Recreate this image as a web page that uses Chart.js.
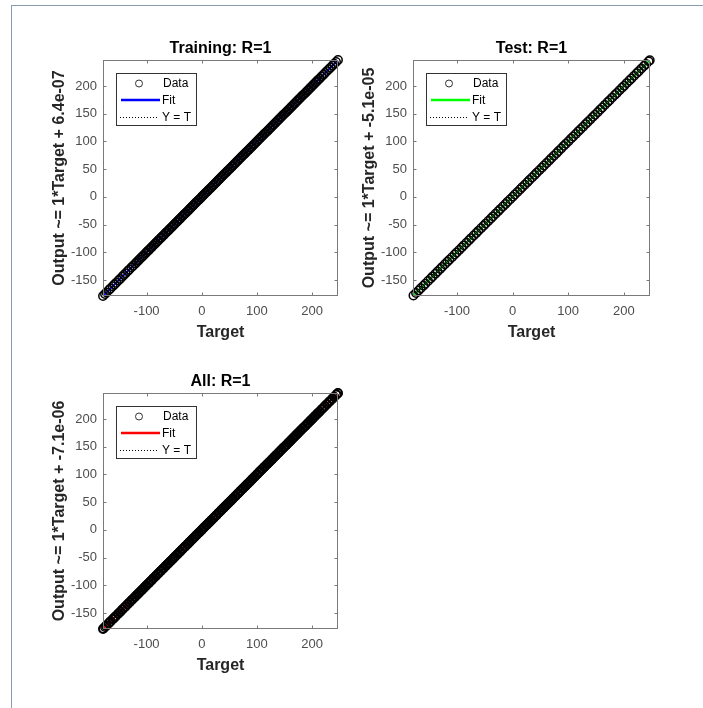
<!DOCTYPE html>
<html>
<head>
<meta charset="utf-8">
<script src="https://cdn.jsdelivr.net/npm/chart.js@4.4.1/dist/chart.umd.min.js"></script>
<style>
html,body{margin:0;padding:0;background:#fff;width:703px;height:708px;overflow:hidden;position:relative}
#frame{position:absolute;left:11px;top:5px;width:720px;height:720px;border-top:1px solid #8c9ab0;border-left:1px solid #8c9ab0}
canvas{position:absolute}
</style>
</head>
<body>
<div id="frame"></div>
<canvas id="c1" width="350" height="350" style="left:0;top:0"></canvas>
<canvas id="c2" width="360" height="350" style="left:310px;top:0"></canvas>
<canvas id="c3" width="350" height="350" style="left:0;top:333px"></canvas>
<script>
// ---- data ----
const axisMin = -179;
const axisMax = 247;
const xTickValues = [-100, 0, 100, 200];
const yTickValues = [-150, -100, -50, 0, 50, 100, 150, 200];

const panelTitles = ['Training: R=1', 'Test: R=1', 'All: R=1'];
const yAxisLabels = ['Output ~= 1*Target + 6.4e-07', 'Output ~= 1*Target + -5.1e-05', 'Output ~= 1*Target + -7.1e-06'];
const fitSlopes = [1, 1, 1];
const fitIntercepts = [6.4e-07, -5.1e-05, -7.1e-06];
const fitColors = ['#0000ff', '#00ff00', '#ff0000'];
const legendLabels = ['Data', 'Fit', 'Y = T'];

// target values of the points (each point lies on Output = Target, R=1)
const trainingValues = [-179.0, -175.4, -172.6, -168.3, -165.5, -161.4, -158.3, -155.1, -151.0, -148.1, -144.3, -141.2, -137.9, -134.0, -131.2, -127.3, -124.4, -120.6, -118.1, -115.2, -112.8, -110.0, -107.6, -105.3, -102.2, -100.1, -97.4, -95.3, -92.5, -90.4, -87.6, -85.1, -83.0, -80.2, -78.1, -75.3, -73.2, -70.4, -68.3, -65.5, -63.2, -60.6, -58.5, -55.7, -53.4, -50.8, -48.7, -45.9, -43.5, -41.0, -38.9, -36.1, -33.8, -31.2, -29.1, -26.3, -24.0, -21.5, -19.3, -16.6, -14.4, -11.7, -9.5, -6.8, -4.6, -1.9, 0.5, 2.8, 5.4, 7.7, 10.3, 12.6, 15.2, 17.5, 20.1, 22.4, 25.0, 27.3, 29.9, 32.2, 34.8, 37.1, 39.7, 42.0, 44.6, 46.9, 49.5, 51.8, 54.4, 56.7, 59.3, 61.6, 64.2, 66.5, 69.1, 71.4, 74.0, 76.3, 78.9, 81.2, 83.8, 86.1, 88.7, 91.0, 93.6, 95.9, 98.5, 100.8, 103.4, 105.7, 108.3, 110.6, 113.2, 115.5, 118.1, 120.4, 123.0, 125.3, 127.9, 130.2, 132.8, 135.1, 137.7, 140.0, 142.6, 144.9, 147.5, 149.8, 152.4, 154.7, 157.3, 159.6, 162.2, 164.5, 167.1, 169.4, 172.0, 174.3, 176.9, 179.2, 181.8, 184.1, 186.7, 189.0, 191.6, 193.9, 196.5, 198.8, 201.4, 203.7, 206.3, 208.6, 211.2, 213.8, 217.1, 220.6, 223.4, 227.0, 230.3, 233.6, 237.2, 240.1, 243.5, 247.0];
const testValues = [-178.2, -173.6, -168.9, -165.1, -160.3, -156.8, -151.9, -147.2, -143.5, -138.7, -134.9, -130.1, -126.4, -121.8, -117.3, -113.6, -108.9, -104.2, -100.5, -95.8, -91.4, -87.6, -82.9, -78.3, -74.5, -69.8, -65.2, -61.4, -56.7, -52.1, -48.3, -43.6, -39.0, -35.2, -30.5, -25.9, -22.1, -17.4, -12.8, -9.0, -4.3, 0.3, 4.1, 8.8, 13.4, 17.2, 21.9, 26.5, 30.3, 35.0, 39.6, 43.4, 48.1, 52.7, 56.5, 61.2, 65.8, 69.6, 74.3, 78.9, 82.7, 87.4, 92.0, 95.8, 100.5, 105.1, 108.9, 113.6, 118.2, 122.0, 126.7, 131.3, 135.1, 139.8, 144.4, 148.2, 152.9, 157.5, 161.3, 166.0, 170.6, 174.4, 179.1, 183.7, 187.5, 192.2, 196.8, 200.6, 205.3, 209.9, 213.7, 218.4, 223.0, 226.8, 231.5, 236.1, 239.9, 244.6, 246.6];
const allValues = trainingValues.concat(testValues);
const panelValues = [trainingValues, testValues, allValues];

// ---- drawing ----
const FONT = "'Liberation Sans', Arial, Helvetica, sans-serif";

const matlabBox = {
  id: 'matlabBox',
  afterDraw(chart, args, opts) {
    const ctx = chart.ctx, a = chart.chartArea, xs = chart.scales.x, ys = chart.scales.y;
    ctx.save();
    const L = Math.round(a.left) + 0.5, R = Math.round(a.right) - 0.5;
    const T = Math.round(a.top) + 0.5, B = Math.round(a.bottom) - 0.5;
    ctx.strokeStyle = '#7a7a7a';
    ctx.lineWidth = 1;
    ctx.strokeRect(L, T, R - L, B - T);
    const tl = 3;
    ctx.beginPath();
    xTickValues.forEach(v => {
      const p = Math.round(xs.getPixelForValue(v)) + 0.5;
      ctx.moveTo(p, B); ctx.lineTo(p, B - tl);
      ctx.moveTo(p, T); ctx.lineTo(p, T + tl);
    });
    yTickValues.forEach(v => {
      const p = Math.round(ys.getPixelForValue(v)) + 0.5;
      ctx.moveTo(L, p); ctx.lineTo(L + tl, p);
      ctx.moveTo(R, p); ctx.lineTo(R - tl, p);
    });
    ctx.stroke();

    // legend box
    const lx = Math.round(a.left) + 13, ly = Math.round(a.top) + 13, lw = 81, lh = 53;
    ctx.fillStyle = '#fff';
    ctx.fillRect(lx, ly, lw, lh);
    ctx.strokeStyle = '#333';
    ctx.strokeRect(lx + 0.5, ly + 0.5, lw - 1, lh - 1);
    // Data
    ctx.beginPath();
    ctx.strokeStyle = '#333';
    ctx.lineWidth = 1;
    ctx.arc(lx + 23, ly + 10.5, 3.5, 0, Math.PI * 2);
    ctx.stroke();
    // Fit
    ctx.beginPath();
    ctx.strokeStyle = opts.color;
    ctx.lineWidth = 2.5;
    ctx.moveTo(lx + 5, ly + 27); ctx.lineTo(lx + 44, ly + 27);
    ctx.stroke();
    // Y = T
    ctx.beginPath();
    ctx.strokeStyle = '#000';
    ctx.lineWidth = 1;
    ctx.setLineDash([1, 2]);
    ctx.moveTo(lx + 4, ly + 44.5); ctx.lineTo(lx + 42, ly + 44.5);
    ctx.stroke();
    ctx.setLineDash([]);
    ctx.fillStyle = '#000';
    ctx.font = '12px ' + FONT;
    ctx.textBaseline = 'middle';
    ctx.textAlign = 'left';
    ctx.fillText(legendLabels[0], lx + 47, ly + 10.5);
    ctx.fillText(legendLabels[1], lx + 46, ly + 27.5);
    ctx.fillText(legendLabels[2], lx + 46, ly + 44.5);
    ctx.restore();
  }
};

function makePanel(id, idx, padRight) {
  const values = panelValues[idx];
  const m = fitSlopes[idx], b = fitIntercepts[idx];
  const ends = [axisMin, axisMax];
  new Chart(document.getElementById(id), {
    type: 'scatter',
    data: {
      datasets: [
        {
          label: legendLabels[2],
          data: ends.map(v => ({x: v, y: v})),
          showLine: true, pointRadius: 0, borderColor: '#000', borderWidth: 1,
          borderDash: [1, 2], order: 0
        },
        {
          label: legendLabels[0],
          data: values.map(v => ({x: v, y: v})),
          pointRadius: 4.2, pointBorderWidth: 1.5, pointStyle: 'circle',
          borderColor: '#000', pointBorderColor: '#000', backgroundColor: 'rgba(0,0,0,0)',
          pointBackgroundColor: 'rgba(0,0,0,0)', clip: false, order: 1
        },
        {
          label: legendLabels[1],
          data: ends.map(v => ({x: v, y: m * v + b})),
          showLine: true, pointRadius: 0, borderColor: fitColors[idx], borderWidth: 2, order: 2
        }
      ]
    },
    options: {
      responsive: false,
      animation: false,
      events: [],
      layout: {padding: {left: 0, right: padRight, top: 0, bottom: 0}},
      plugins: {
        legend: {display: false},
        tooltip: {enabled: false},
        title: {
          display: true, text: panelTitles[idx], fullSize: false, color: '#000',
          font: {family: FONT, size: 16, weight: 'bold'},
          padding: {top: 39.4, bottom: 1.4}
        },
        matlabBox: {color: fitColors[idx]}
      },
      scales: {
        x: {
          type: 'linear', min: axisMin, max: axisMax,
          afterBuildTicks: s => { s.ticks = xTickValues.map(v => ({value: v})); },
          afterFit: s => { s.height = 54; },
          grid: {display: false, drawTicks: false}, border: {display: false},
          ticks: {padding: 8, color: '#4d4d4d', font: {family: FONT, size: 13}, maxRotation: 0, autoSkip: false},
          title: {display: true, text: 'Target', color: '#262626', font: {family: FONT, size: 16, weight: 'bold'}, padding: {top: 0, bottom: 7.4}}
        },
        y: {
          type: 'linear', min: axisMin, max: axisMax,
          afterBuildTicks: s => { s.ticks = yTickValues.map(v => ({value: v})); },
          afterFit: s => { s.width = 103; },
          grid: {display: false, drawTicks: false}, border: {display: false},
          ticks: {padding: 6, color: '#4d4d4d', font: {family: FONT, size: 13}, autoSkip: false},
          title: {display: true, text: yAxisLabels[idx], color: '#262626', font: {family: FONT, size: 16, weight: 'bold'}, padding: {top: 50.4, bottom: 0}}
        }
      }
    },
    plugins: [matlabBox]
  });
}

makePanel('c1', 0, 12);
makePanel('c2', 1, 20);
makePanel('c3', 2, 12);
</script>
</body>
</html>
